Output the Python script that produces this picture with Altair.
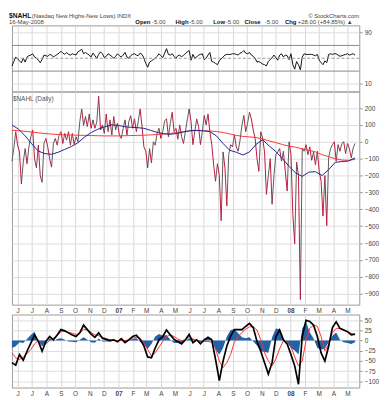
import altair as alt
import numpy as np
import pandas as pd

START = "2006-05-20"
END = "2008-05-26"

# $NAHL daily (sampled every 4 calendar days)
nahl = [-115, -40, 60, -20, -60, -250, -120, -40, -130, -30,
        30, 70, -100, -155, -20, -200, -240, -10, 20, -30,
        -100, -150, -10, 20, -20, 40, 60, -10, 50, 10,
        60, -20, 50, -15, 30, 0, 120, 195, 97, 150,
        90, 165, 80, 130, 80, 117, 270, 70, 100, 50,
        165, 60, 130, 40, 150, 70, 110, 40, 20, 80,
        130, 40, 120, 155, 80, 136, 60, 120, 195, 90,
        -30, -56, -155, -40, -125, 0, -20, 50, 80, 20,
        60, 125, 136, 30, 110, 175, 60, 80, 15, 100,
        30, -10, 60, 130, 195, 120, -17, 60, 136, 90,
        -17, 60, 156, 100, 165, 60, -17, -136, -234, -130,
        -200, -468, -60, -156, -380, -76, -17, -30, 41, -30,
        -56, 10, 97, 156, 60, 110, 175, 136, 70, 20,
        -100, -175, 60, 20, -60, -312, -200, -100, -370, -200,
        -76, -60, -40, -115, -56, -175, -292, 0, -76, -430,
        -604, -120, -200, -935, -37, -56, -17, -76, -30, -110,
        -60, -136, -56, -175, -234, -440, -200, -497, -95, -40,
        -17, 0, -115, -17, -56, -10, 0, -70, -10, -40,
        -95, -37, -10]

# RSI (top panel), same 4-day sampling
rsi = [38, 45, 52, 49, 46, 43, 50, 44, 52, 54,
       55, 57, 52, 50, 47, 43, 48, 55, 54, 53,
       56, 55, 52, 54, 56, 58, 61, 58, 56, 59,
       56, 55, 57, 56, 55, 60, 62, 64, 57, 59,
       57, 55, 52, 58, 54, 50, 56, 60, 57, 51,
       53, 57, 55, 53, 50, 53, 57, 54, 52, 55,
       59, 52, 50, 54, 56, 57, 55, 54, 58, 56,
       50, 42, 36, 44, 46, 48, 50, 53, 57, 54,
       51, 58, 65, 56, 55, 57, 53, 50, 54, 55,
       52, 55, 57, 60, 62, 47, 56, 50, 52, 55,
       56, 57, 48, 50, 55, 59, 45, 44, 42, 40,
       46, 49, 52, 55, 56, 56, 56, 57, 57, 56,
       55, 58, 59, 62, 58, 57, 59, 55, 53, 50,
       44, 45, 43, 41, 40, 38, 45, 48, 51, 55,
       51, 47, 55, 57, 52, 55, 54, 48, 57, 40,
       33, 45, 40, 32, 52, 57, 56, 56, 56, 56,
       55, 54, 56, 47, 43, 40, 46, 43, 56, 57,
       56, 57, 57, 55, 53, 54, 55, 56, 57, 55,
       56, 57, 55]

# moving averages (every 14 days)
ma_long = [68, 66, 62, 58, 53, 49, 46, 43, 41, 40,
           39, 38, 37, 36, 35, 35, 35, 36, 37, 38,
           39, 41, 43, 46, 50, 55, 60, 65, 66, 66,
           64, 61, 55, 47, 38, 32, 29, 25, 17, 5,
           -5, -16, -26, -32, -42, -50, -60, -76, -88, -100,
           -108, -110, -104]
ma_short = [100, 75, 35, -12, -55, -70, -74, -62, -45, -28,
            -6, 28, 55, 74, 88, 100, 98, 90, 86, 84,
            80, 68, 56, 48, 44, 50, 58, 66, 68, 65,
            60, 35, -10, -50, -62, -78, -60, -15, 12, -25,
            -58, -100, -145, -185, -205, -180, -177, -200, -165, -122,
            -117, -114, -95]

# lower oscillator (every 8 days)
osc = [-54, -60, -34, -48, -26, -6, 14, -2, -26, -2,
       10, 2, 14, 27, 24, 19, 14, 10, 19, 38,
       27, 16, 8, 19, 6, 3, 0, 2, -3, 5,
       -5, 2, 10, 13, 3, -13, -40, -42, -18, 2,
       10, 26, 14, 3, -2, -8, 2, 15, -5, 2,
       -8, 2, 8, 2, -46, -98, -50, -13, 11, 27,
       27, 27, 35, 42, 32, -2, -26, -54, -82, -54,
       10, 26, 2, -8, -34, -62, -107, 10, 50, 47,
       38, 10, -30, -50, -14, 32, 46, 30, 26, 22,
       14, 16]
sig = [-30, -42, -46, -40, -32, -22, -8, 0, -12, -8,
       0, 6, 12, 22, 24, 20, 18, 15, 18, 28,
       26, 20, 14, 12, 8, 5, 2, 1, 0, 1,
       0, 2, 6, 8, 6, -6, -22, -38, -30, -16,
       -2, 10, 14, 10, 4, 0, 2, 10, 4, 0,
       -2, -2, -2, -4, -20, -50, -66, -54, -34, -4,
       10, 20, 28, 34, 34, 26, 2, -30, -50, -62,
       -45, -20, 0, -5, -15, -40, -62, -50, 0, 30,
       38, 35, 10, -25, -10, 20, 30, 30, 26, 22,
       18, 14]
hist = [-18, -14, -4, -6, 4, 14, 22, -4, -14, -6,
        6, -2, 4, 6, 2, -2, -3, -4, 2, 8,
        2, -4, -5, 5, -2, -2, -2, 1, -3, 3,
        -4, 0, 4, 6, -3, -8, -20, -8, 10, 16,
        12, 14, 2, -6, -6, -8, 0, 6, 4, 2,
        -5, 4, 8, 4, -22, -34, -18, 10, 26, 28,
        18, 8, 6, 8, -2, -12, -26, -28, -30, 8,
        30, 28, 4, -4, -18, -24, -34, 30, 46, 20,
        5, -18, -22, -20, -4, 12, 20, 2, -4, -6,
        -8, -4]

top_ticks = [10, 30, 50, 70, 90]
main_ticks = [200, 100, 0, -100, -200, -300, -400, -500, -600, -700, -800, -900]
low_ticks = [50, 25, 0, -25, -50, -75, -100]

EPOCH = pd.Timestamp("1970-01-01")


def to_ms(idx):
    return np.asarray((pd.DatetimeIndex(idx) - EPOCH) // pd.Timedelta(milliseconds=1), dtype="int64")


d4 = to_ms(pd.date_range(START, periods=len(nahl), freq="4D"))
d14 = to_ms(pd.date_range(START, periods=len(ma_long), freq="14D"))
d8 = to_ms(pd.date_range(START, periods=len(osc), freq="8D"))
XDOM = [int(to_ms([START])[0]), int(to_ms([END])[0])]
TICKS = [int(v) for v in to_ms(pd.date_range("2006-06-01", "2008-05-01", freq="MS"))]

seg = pd.DataFrame({"t": d4, "v": nahl})
seg["t2"] = seg["t"].shift(-1)
seg["v2"] = seg["v"].shift(-1)
seg = seg.dropna()
seg["dir"] = np.where(seg["v2"] >= seg["v"], "up", "down")
ma_df = pd.DataFrame({"t": d14, "long": ma_long, "short": ma_short})
rsi_df = pd.DataFrame({"t": d4, "rsi": rsi})
low_df = pd.DataFrame({"t": d8, "osc": osc, "sig": sig, "hist": hist})
one = pd.DataFrame({"k": [0]})

W = 352
FONT = "Liberation Sans"
LEXPR = ("utcmonth(datum.value) == 0 ? utcFormat(datum.value, '%y') : "
         "substring(utcFormat(datum.value, '%b'), 0, 1)")


def xenc(labels=True):
    return alt.X(
        "t:T",
        scale=alt.Scale(type="utc", domain=XDOM, nice=False),
        axis=alt.Axis(values=TICKS, labels=labels, labelExpr=LEXPR,
                      labelFontWeight={"condition": {"test": "utcmonth(datum.value) == 0", "value": "bold"},
                                       "value": "normal"},
                      grid=True, gridColor="#d8d8d8", ticks=False, domain=False,
                      labelFontSize=6.5, labelColor="#444", labelPadding=3,
                      labelFont=FONT, labelOverlap=False, title=None),
    )


def yenc(field, dom, ticks):
    return alt.Y(
        field,
        scale=alt.Scale(domain=dom, nice=False, zero=False),
        axis=alt.Axis(values=ticks, orient="right", grid=True, gridColor="#dcdcdc",
                      ticks=True, tickSize=3, tickColor="#999", domain=False,
                      labelFontSize=6.5, labelColor="#444", labelPadding=2,
                      labelFont=FONT, title=None),
    )


def txt(s, x, y, size=6.5, weight="normal", color="#444", align="left"):
    return alt.Chart(one).mark_text(
        text=s, align=align, baseline="alphabetic", fontSize=size,
        fontWeight=weight, color=color, font=FONT
    ).encode(x=alt.value(x), y=alt.value(y))


NOSTROKE = alt.ViewBackground(stroke="transparent")

# header
header = alt.layer(
    txt("$NAHL", -3, 6.5, size=6.8, weight="bold", color="#111"),
    txt("(Nasdaq New Highs-New Lows) INDX", 20, 6.5, size=6),
    txt("\u00a9 StockCharts.com", W, 6.5, size=6, align="right"),
    txt("16-May-2008", -3, 13, size=6),
    txt("Open", 125, 13, size=6, weight="bold", color="#111"),
    txt("-5.00", 142, 13, size=6),
    txt("High", 165.7, 13, size=6, weight="bold", color="#111"),
    txt("-5.00", 179.7, 13, size=6),
    txt("Low", 204, 13, size=6, weight="bold", color="#111"),
    txt("-5.00", 216.7, 13, size=6),
    txt("Close", 235.7, 13, size=6, weight="bold", color="#111"),
    txt("-5.00", 256.3, 13, size=6),
    txt("Chg", 276.7, 13, size=6, weight="bold", color="#111"),
    txt("+28.00 (+84.85%) \u25b2", 289.7, 13, size=6),
).properties(width=W, height=14, view=NOSTROKE)

# top RSI panel
TDOM = [-1.8, 101.2]
lvl_df = pd.DataFrame({"lvl": [30, 70]})
top = alt.layer(
    alt.Chart(rsi_df).mark_line(color="#111", strokeWidth=1).encode(
        x=xenc(labels=False), y=yenc("rsi:Q", TDOM, top_ticks)),
    alt.Chart(lvl_df).mark_rule(color="#8a8a8a", strokeWidth=1).encode(
        y=yenc("lvl:Q", TDOM, top_ticks)),
    alt.Chart(one).mark_rule(color="#9a9a9a", strokeWidth=1, strokeDash=[3, 2]).encode(
        y=alt.datum(50)),
).properties(width=W, height=67)

# main panel
MDOM = [-965, 298]
up = seg[seg["dir"] == "up"]
down = seg[seg["dir"] == "down"]
main = alt.layer(
    alt.Chart(up).mark_rule(color="#5a5a5a", strokeWidth=1).encode(
        x=xenc(), x2=alt.X2("t2"), y=yenc("v:Q", MDOM, main_ticks), y2=alt.Y2("v2")),
    alt.Chart(down).mark_rule(color="#c0143c", strokeWidth=1).encode(
        x=xenc(), x2=alt.X2("t2"), y=yenc("v:Q", MDOM, main_ticks), y2=alt.Y2("v2")),
    alt.Chart(ma_df).mark_line(color="#ff3535", strokeWidth=1).encode(
        x=xenc(), y=yenc("long:Q", MDOM, main_ticks)),
    alt.Chart(ma_df).mark_line(color="#23238a", strokeWidth=1).encode(
        x=xenc(), y=yenc("short:Q", MDOM, main_ticks)),
    txt("$NAHL (Daily)", 1, 9.5, size=6.5, color="#555"),
).properties(width=W, height=216)

spacer = alt.Chart(one).mark_text(text="").encode(
    x=alt.value(0), y=alt.value(0)).properties(width=W, height=10, view=NOSTROKE)

# lower panel
LDOM = [-115, 64]
lower = alt.layer(
    alt.Chart(low_df).mark_area(color="#2462a6").encode(
        x=xenc(), y=yenc("hist:Q", LDOM, low_ticks), y2=alt.datum(0)),
    alt.Chart(low_df).mark_line(color="#ff3030", strokeWidth=1).encode(
        x=xenc(), y=yenc("sig:Q", LDOM, low_ticks)),
    alt.Chart(low_df).mark_line(color="#000", strokeWidth=1.7).encode(
        x=xenc(), y=yenc("osc:Q", LDOM, low_ticks)),
).properties(width=W, height=74)

chart = alt.vconcat(
    header, top, main, spacer, lower, spacing=0, bounds="flush"
).properties(
    padding={"left": 0, "top": 0, "right": 0, "bottom": 0}
).configure_view(stroke="#9a9a9a", strokeWidth=1)

chart.save("out.html", embed_options={"renderer": "svg", "actions": False})
